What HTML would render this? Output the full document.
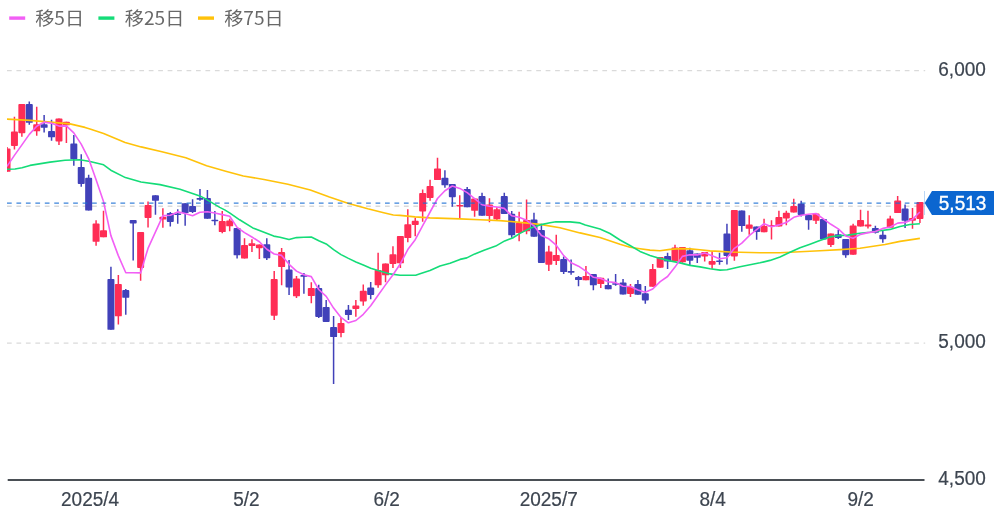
<!DOCTYPE html>
<html lang="ja"><head><meta charset="utf-8"><title>chart</title>
<style>
html,body{margin:0;padding:0;background:#fff;}
body{width:1004px;height:526px;overflow:hidden;position:relative;font-family:"Liberation Sans","Noto Sans CJK JP",sans-serif;}
svg{position:absolute;left:0;top:0;display:block}
.ax{font-family:"Liberation Sans",sans-serif;font-size:19px;fill:#3d4550;stroke:#3d4550;stroke-width:0.2px}
.lg{font-family:"Noto Sans CJK JP","Liberation Sans",sans-serif;font-size:19.15px;fill:#686868}
</style></head><body>
<svg width="1004" height="526" viewBox="0 0 1004 526">
<rect width="1004" height="526" fill="#fff"/>
<g stroke="#dadada" stroke-width="1.3" stroke-dasharray="4.725 4.725" fill="none">
<path d="M7 70.7H925.2"/><path d="M7 206.25H925.2"/><path d="M7 343.2H925.2"/>
</g>
<g clip-path="url(#cp)">
<path d="M7.02 146.9V171.8M14.44 116.7V149.5M21.86 104.0V136.7M36.71 106.8V135.7M58.97 118.4V144.9M66.40 121.7V143.1M96.08 220.2V245.8M103.51 210.8V237.3M118.35 274.9V324.5M140.62 231.9V280.8M148.04 201.6V227.4M162.88 208.2V227.8M222.26 210.9V233.3M229.68 218.7V231.3M244.52 238.2V258.6M251.95 239.2V252.1M259.37 244.5V259.1M274.21 271.1V320.0M281.63 247.9V285.2M296.48 276.1V298.1M311.32 282.2V303.3M341.01 317.6V337.3M355.85 300.1V316.8M363.28 284.6V305.8M378.12 252.7V287.8M385.54 263.5V282.3M392.96 246.2V268.1M400.39 235.9V267.9M407.81 209.2V242.3M415.23 217.8V236.3M422.65 189.6V221.8M430.07 179.7V200.8M437.50 157.8V180.1M459.76 195.2V218.8M474.61 198.4V216.8M489.45 198.2V222.3M496.87 207.3V220.3M519.14 211.7V241.2M526.56 199.6V234.2M548.83 245.8V271.0M556.25 234.8V265.0M585.94 265.9V280.3M600.78 277.7V288.1M630.47 283.9V297.0M652.73 264.1V286.8M660.16 257.1V267.7M675.00 244.8V261.3M682.42 247.1V262.8M704.69 252.1V261.5M712.11 251.2V268.7M734.38 210.1V260.8M749.22 215.2V234.8M764.06 218.8V232.2M771.49 220.2V239.6M778.91 210.7V226.5M786.33 210.8V225.3M793.75 198.8V212.5M816.02 213.4V224.1M830.86 233.4V246.9M853.13 223.8V254.7M860.55 209.8V226.5M867.97 210.8V228.4M890.24 215.8V227.8M897.66 196.1V213.1M912.50 207.9V228.8M919.93 202.1V223.0" stroke="#ff2d55" stroke-width="1.5" fill="none"/>
<path d="M29.29 101.5V124.8M44.13 115.0V132.4M51.55 119.8V140.8M73.82 135.1V165.8M81.24 154.2V186.7M88.66 174.8V210.6M110.93 266.8V329.8M125.77 289.1V314.8M133.19 220.0V260.4M155.46 195.2V214.7M170.30 211.9V226.6M177.73 209.2V223.7M185.15 203.2V225.8M192.57 199.2V213.1M199.99 188.9V200.8M207.41 190.1V218.8M214.84 210.9V225.2M237.10 228.1V258.4M266.79 238.2V260.1M289.06 260.1V295.1M303.90 273.1V293.8M318.74 284.8V318.0M326.17 299.9V322.0M333.59 315.9V384.0M348.43 304.9V319.9M370.70 281.9V299.2M444.92 170.2V187.7M452.34 184.1V206.8M467.18 187.1V207.3M482.03 192.8V215.8M504.29 192.8V214.0M511.72 210.9V237.8M533.98 212.8V236.7M541.40 223.7V263.0M563.67 256.4V274.1M571.09 259.4V274.8M578.51 275.9V286.3M593.36 273.9V290.3M608.20 278.6V289.3M615.62 274.1V285.8M623.05 279.1V294.4M637.89 279.9V294.7M645.31 286.1V303.7M667.58 252.8V268.9M689.84 247.8V264.9M697.27 253.4V263.1M719.53 252.8V264.7M726.95 223.7V264.4M741.80 210.4V231.8M756.64 226.4V239.7M801.17 200.8V216.6M808.60 215.1V229.8M823.44 219.1V239.4M838.28 229.8V239.1M845.71 239.0V257.7M875.39 225.7V233.6M882.82 230.8V242.7M905.08 204.6V227.9" stroke="#4141b9" stroke-width="1.5" fill="none"/>
<path d="M4.42 148.4h5.20a0.90 0.90 0 0 1 0.90 0.90v21.60a0.90 0.90 0 0 1 -0.90 0.90h-5.20a0.90 0.90 0 0 1 -0.90 -0.90v-21.60a0.90 0.90 0 0 1 0.90 -0.90zM11.84 131.5h5.20a0.90 0.90 0 0 1 0.90 0.90v12.70a0.90 0.90 0 0 1 -0.90 0.90h-5.20a0.90 0.90 0 0 1 -0.90 -0.90v-12.70a0.90 0.90 0 0 1 0.90 -0.90zM19.26 104.0h5.20a0.90 0.90 0 0 1 0.90 0.90v27.40a0.90 0.90 0 0 1 -0.90 0.90h-5.20a0.90 0.90 0 0 1 -0.90 -0.90v-27.40a0.90 0.90 0 0 1 0.90 -0.90zM34.11 124.2h5.20a0.90 0.90 0 0 1 0.90 0.90v5.30a0.90 0.90 0 0 1 -0.90 0.90h-5.20a0.90 0.90 0 0 1 -0.90 -0.90v-5.30a0.90 0.90 0 0 1 0.90 -0.90zM56.37 118.4h5.20a0.90 0.90 0 0 1 0.90 0.90v21.20a0.90 0.90 0 0 1 -0.90 0.90h-5.20a0.90 0.90 0 0 1 -0.90 -0.90v-21.20a0.90 0.90 0 0 1 0.90 -0.90zM63.80 121.7h5.20a0.90 0.90 0 0 1 0.90 0.90v1.80a0.90 0.90 0 0 1 -0.90 0.90h-5.20a0.90 0.90 0 0 1 -0.90 -0.90v-1.80a0.90 0.90 0 0 1 0.90 -0.90zM93.48 223.4h5.20a0.90 0.90 0 0 1 0.90 0.90v16.60a0.90 0.90 0 0 1 -0.90 0.90h-5.20a0.90 0.90 0 0 1 -0.90 -0.90v-16.60a0.90 0.90 0 0 1 0.90 -0.90zM100.91 230.2h5.20a0.90 0.90 0 0 1 0.90 0.90v5.30a0.90 0.90 0 0 1 -0.90 0.90h-5.20a0.90 0.90 0 0 1 -0.90 -0.90v-5.30a0.90 0.90 0 0 1 0.90 -0.90zM115.75 283.9h5.20a0.90 0.90 0 0 1 0.90 0.90v30.60a0.90 0.90 0 0 1 -0.90 0.90h-5.20a0.90 0.90 0 0 1 -0.90 -0.90v-30.60a0.90 0.90 0 0 1 0.90 -0.90zM138.02 231.9h5.20a0.90 0.90 0 0 1 0.90 0.90v34.20a0.90 0.90 0 0 1 -0.90 0.90h-5.20a0.90 0.90 0 0 1 -0.90 -0.90v-34.20a0.90 0.90 0 0 1 0.90 -0.90zM145.44 205.1h5.20a0.90 0.90 0 0 1 0.90 0.90v11.00a0.90 0.90 0 0 1 -0.90 0.90h-5.20a0.90 0.90 0 0 1 -0.90 -0.90v-11.00a0.90 0.90 0 0 1 0.90 -0.90zM160.28 216.7h5.20a0.90 0.90 0 0 1 0.90 0.90v1.10a0.90 0.90 0 0 1 -0.90 0.90h-5.20a0.90 0.90 0 0 1 -0.90 -0.90v-1.10a0.90 0.90 0 0 1 0.90 -0.90zM219.66 221.1h5.20a0.90 0.90 0 0 1 0.90 0.90v9.20a0.90 0.90 0 0 1 -0.90 0.90h-5.20a0.90 0.90 0 0 1 -0.90 -0.90v-9.20a0.90 0.90 0 0 1 0.90 -0.90zM227.08 220.4h5.20a0.90 0.90 0 0 1 0.90 0.90v4.10a0.90 0.90 0 0 1 -0.90 0.90h-5.20a0.90 0.90 0 0 1 -0.90 -0.90v-4.10a0.90 0.90 0 0 1 0.90 -0.90zM241.92 245.0h5.20a0.90 0.90 0 0 1 0.90 0.90v11.80a0.90 0.90 0 0 1 -0.90 0.90h-5.20a0.90 0.90 0 0 1 -0.90 -0.90v-11.80a0.90 0.90 0 0 1 0.90 -0.90zM249.35 243.3h5.20a0.90 0.90 0 0 1 0.90 0.90v0.90a0.90 0.90 0 0 1 -0.90 0.90h-5.20a0.90 0.90 0 0 1 -0.90 -0.90v-0.90a0.90 0.90 0 0 1 0.90 -0.90zM256.77 244.5h5.20a0.90 0.90 0 0 1 0.90 0.90v1.90a0.90 0.90 0 0 1 -0.90 0.90h-5.20a0.90 0.90 0 0 1 -0.90 -0.90v-1.90a0.90 0.90 0 0 1 0.90 -0.90zM271.61 279.0h5.20a0.90 0.90 0 0 1 0.90 0.90v34.90a0.90 0.90 0 0 1 -0.90 0.90h-5.20a0.90 0.90 0 0 1 -0.90 -0.90v-34.90a0.90 0.90 0 0 1 0.90 -0.90zM279.03 252.0h5.20a0.90 0.90 0 0 1 0.90 0.90v13.30a0.90 0.90 0 0 1 -0.90 0.90h-5.20a0.90 0.90 0 0 1 -0.90 -0.90v-13.30a0.90 0.90 0 0 1 0.90 -0.90zM293.88 278.6h5.20a0.90 0.90 0 0 1 0.90 0.90v15.90a0.90 0.90 0 0 1 -0.90 0.90h-5.20a0.90 0.90 0 0 1 -0.90 -0.90v-15.90a0.90 0.90 0 0 1 0.90 -0.90zM308.72 287.9h5.20a0.90 0.90 0 0 1 0.90 0.90v6.40a0.90 0.90 0 0 1 -0.90 0.90h-5.20a0.90 0.90 0 0 1 -0.90 -0.90v-6.40a0.90 0.90 0 0 1 0.90 -0.90zM338.41 322.9h5.20a0.90 0.90 0 0 1 0.90 0.90v8.40a0.90 0.90 0 0 1 -0.90 0.90h-5.20a0.90 0.90 0 0 1 -0.90 -0.90v-8.40a0.90 0.90 0 0 1 0.90 -0.90zM353.25 305.5h5.20a0.90 0.90 0 0 1 0.90 0.90v1.60a0.90 0.90 0 0 1 -0.90 0.90h-5.20a0.90 0.90 0 0 1 -0.90 -0.90v-1.60a0.90 0.90 0 0 1 0.90 -0.90zM360.68 290.7h5.20a0.90 0.90 0 0 1 0.90 0.90v8.90a0.90 0.90 0 0 1 -0.90 0.90h-5.20a0.90 0.90 0 0 1 -0.90 -0.90v-8.90a0.90 0.90 0 0 1 0.90 -0.90zM375.52 269.9h5.20a0.90 0.90 0 0 1 0.90 0.90v13.60a0.90 0.90 0 0 1 -0.90 0.90h-5.20a0.90 0.90 0 0 1 -0.90 -0.90v-13.60a0.90 0.90 0 0 1 0.90 -0.90zM382.94 263.5h5.20a0.90 0.90 0 0 1 0.90 0.90v10.00a0.90 0.90 0 0 1 -0.90 0.90h-5.20a0.90 0.90 0 0 1 -0.90 -0.90v-10.00a0.90 0.90 0 0 1 0.90 -0.90zM390.36 254.3h5.20a0.90 0.90 0 0 1 0.90 0.90v7.90a0.90 0.90 0 0 1 -0.90 0.90h-5.20a0.90 0.90 0 0 1 -0.90 -0.90v-7.90a0.90 0.90 0 0 1 0.90 -0.90zM397.79 235.9h5.20a0.90 0.90 0 0 1 0.90 0.90v25.60a0.90 0.90 0 0 1 -0.90 0.90h-5.20a0.90 0.90 0 0 1 -0.90 -0.90v-25.60a0.90 0.90 0 0 1 0.90 -0.90zM405.21 224.2h5.20a0.90 0.90 0 0 1 0.90 0.90v12.10a0.90 0.90 0 0 1 -0.90 0.90h-5.20a0.90 0.90 0 0 1 -0.90 -0.90v-12.10a0.90 0.90 0 0 1 0.90 -0.90zM412.63 220.8h5.20a0.90 0.90 0 0 1 0.90 0.90v2.30a0.90 0.90 0 0 1 -0.90 0.90h-5.20a0.90 0.90 0 0 1 -0.90 -0.90v-2.30a0.90 0.90 0 0 1 0.90 -0.90zM420.05 193.1h5.20a0.90 0.90 0 0 1 0.90 0.90v16.60a0.90 0.90 0 0 1 -0.90 0.90h-5.20a0.90 0.90 0 0 1 -0.90 -0.90v-16.60a0.90 0.90 0 0 1 0.90 -0.90zM427.47 186.0h5.20a0.90 0.90 0 0 1 0.90 0.90v10.20a0.90 0.90 0 0 1 -0.90 0.90h-5.20a0.90 0.90 0 0 1 -0.90 -0.90v-10.20a0.90 0.90 0 0 1 0.90 -0.90zM434.90 168.4h5.20a0.90 0.90 0 0 1 0.90 0.90v9.90a0.90 0.90 0 0 1 -0.90 0.90h-5.20a0.90 0.90 0 0 1 -0.90 -0.90v-9.90a0.90 0.90 0 0 1 0.90 -0.90zM457.06 204.9h5.40a0.80 0.80 0 0 1 0.80 0.80v0.00a0.80 0.80 0 0 1 -0.80 0.80h-5.40a0.80 0.80 0 0 1 -0.80 -0.80v-0.00a0.80 0.80 0 0 1 0.80 -0.80zM472.01 198.4h5.20a0.90 0.90 0 0 1 0.90 0.90v10.60a0.90 0.90 0 0 1 -0.90 0.90h-5.20a0.90 0.90 0 0 1 -0.90 -0.90v-10.60a0.90 0.90 0 0 1 0.90 -0.90zM486.85 204.4h5.20a0.90 0.90 0 0 1 0.90 0.90v9.90a0.90 0.90 0 0 1 -0.90 0.90h-5.20a0.90 0.90 0 0 1 -0.90 -0.90v-9.90a0.90 0.90 0 0 1 0.90 -0.90zM494.27 209.2h5.20a0.90 0.90 0 0 1 0.90 0.90v8.30a0.90 0.90 0 0 1 -0.90 0.90h-5.20a0.90 0.90 0 0 1 -0.90 -0.90v-8.30a0.90 0.90 0 0 1 0.90 -0.90zM516.54 222.9h5.20a0.90 0.90 0 0 1 0.90 0.90v8.40a0.90 0.90 0 0 1 -0.90 0.90h-5.20a0.90 0.90 0 0 1 -0.90 -0.90v-8.40a0.90 0.90 0 0 1 0.90 -0.90zM523.96 219.9h5.20a0.90 0.90 0 0 1 0.90 0.90v9.60a0.90 0.90 0 0 1 -0.90 0.90h-5.20a0.90 0.90 0 0 1 -0.90 -0.90v-9.60a0.90 0.90 0 0 1 0.90 -0.90zM546.23 251.4h5.20a0.90 0.90 0 0 1 0.90 0.90v11.50a0.90 0.90 0 0 1 -0.90 0.90h-5.20a0.90 0.90 0 0 1 -0.90 -0.90v-11.50a0.90 0.90 0 0 1 0.90 -0.90zM553.65 254.9h5.20a0.90 0.90 0 0 1 0.90 0.90v4.40a0.90 0.90 0 0 1 -0.90 0.90h-5.20a0.90 0.90 0 0 1 -0.90 -0.90v-4.40a0.90 0.90 0 0 1 0.90 -0.90zM583.34 276.1h5.20a0.90 0.90 0 0 1 0.90 0.90v2.40a0.90 0.90 0 0 1 -0.90 0.90h-5.20a0.90 0.90 0 0 1 -0.90 -0.90v-2.40a0.90 0.90 0 0 1 0.90 -0.90zM598.18 277.7h5.20a0.90 0.90 0 0 1 0.90 0.90v4.60a0.90 0.90 0 0 1 -0.90 0.90h-5.20a0.90 0.90 0 0 1 -0.90 -0.90v-4.60a0.90 0.90 0 0 1 0.90 -0.90zM627.87 286.7h5.20a0.90 0.90 0 0 1 0.90 0.90v5.50a0.90 0.90 0 0 1 -0.90 0.90h-5.20a0.90 0.90 0 0 1 -0.90 -0.90v-5.50a0.90 0.90 0 0 1 0.90 -0.90zM650.13 268.9h5.20a0.90 0.90 0 0 1 0.90 0.90v16.10a0.90 0.90 0 0 1 -0.90 0.90h-5.20a0.90 0.90 0 0 1 -0.90 -0.90v-16.10a0.90 0.90 0 0 1 0.90 -0.90zM657.56 257.1h5.20a0.90 0.90 0 0 1 0.90 0.90v8.80a0.90 0.90 0 0 1 -0.90 0.90h-5.20a0.90 0.90 0 0 1 -0.90 -0.90v-8.80a0.90 0.90 0 0 1 0.90 -0.90zM672.40 247.4h5.20a0.90 0.90 0 0 1 0.90 0.90v12.10a0.90 0.90 0 0 1 -0.90 0.90h-5.20a0.90 0.90 0 0 1 -0.90 -0.90v-12.10a0.90 0.90 0 0 1 0.90 -0.90zM679.82 247.1h5.20a0.90 0.90 0 0 1 0.90 0.90v13.40a0.90 0.90 0 0 1 -0.90 0.90h-5.20a0.90 0.90 0 0 1 -0.90 -0.90v-13.40a0.90 0.90 0 0 1 0.90 -0.90zM702.09 252.1h5.20a0.90 0.90 0 0 1 0.90 0.90v2.60a0.90 0.90 0 0 1 -0.90 0.90h-5.20a0.90 0.90 0 0 1 -0.90 -0.90v-2.60a0.90 0.90 0 0 1 0.90 -0.90zM709.51 261.0h5.20a0.90 0.90 0 0 1 0.90 0.90v1.90a0.90 0.90 0 0 1 -0.90 0.90h-5.20a0.90 0.90 0 0 1 -0.90 -0.90v-1.90a0.90 0.90 0 0 1 0.90 -0.90zM731.78 210.1h5.20a0.90 0.90 0 0 1 0.90 0.90v44.60a0.90 0.90 0 0 1 -0.90 0.90h-5.20a0.90 0.90 0 0 1 -0.90 -0.90v-44.60a0.90 0.90 0 0 1 0.90 -0.90zM746.62 224.4h5.20a0.90 0.90 0 0 1 0.90 0.90v2.60a0.90 0.90 0 0 1 -0.90 0.90h-5.20a0.90 0.90 0 0 1 -0.90 -0.90v-2.60a0.90 0.90 0 0 1 0.90 -0.90zM761.46 225.9h5.20a0.90 0.90 0 0 1 0.90 0.90v4.50a0.90 0.90 0 0 1 -0.90 0.90h-5.20a0.90 0.90 0 0 1 -0.90 -0.90v-4.50a0.90 0.90 0 0 1 0.90 -0.90zM768.69 225.0h5.60a0.70 0.70 0 0 1 0.70 0.70v0.00a0.70 0.70 0 0 1 -0.70 0.70h-5.60a0.70 0.70 0 0 1 -0.70 -0.70v-0.00a0.70 0.70 0 0 1 0.70 -0.70zM776.31 217.1h5.20a0.90 0.90 0 0 1 0.90 0.90v7.60a0.90 0.90 0 0 1 -0.90 0.90h-5.20a0.90 0.90 0 0 1 -0.90 -0.90v-7.60a0.90 0.90 0 0 1 0.90 -0.90zM783.73 212.7h5.20a0.90 0.90 0 0 1 0.90 0.90v4.00a0.90 0.90 0 0 1 -0.90 0.90h-5.20a0.90 0.90 0 0 1 -0.90 -0.90v-4.00a0.90 0.90 0 0 1 0.90 -0.90zM791.15 206.0h5.20a0.90 0.90 0 0 1 0.90 0.90v4.70a0.90 0.90 0 0 1 -0.90 0.90h-5.20a0.90 0.90 0 0 1 -0.90 -0.90v-4.70a0.90 0.90 0 0 1 0.90 -0.90zM813.42 213.4h5.20a0.90 0.90 0 0 1 0.90 0.90v5.60a0.90 0.90 0 0 1 -0.90 0.90h-5.20a0.90 0.90 0 0 1 -0.90 -0.90v-5.60a0.90 0.90 0 0 1 0.90 -0.90zM828.26 233.4h5.20a0.90 0.90 0 0 1 0.90 0.90v9.70a0.90 0.90 0 0 1 -0.90 0.90h-5.20a0.90 0.90 0 0 1 -0.90 -0.90v-9.70a0.90 0.90 0 0 1 0.90 -0.90zM850.53 225.4h5.20a0.90 0.90 0 0 1 0.90 0.90v27.50a0.90 0.90 0 0 1 -0.90 0.90h-5.20a0.90 0.90 0 0 1 -0.90 -0.90v-27.50a0.90 0.90 0 0 1 0.90 -0.90zM857.95 220.0h5.20a0.90 0.90 0 0 1 0.90 0.90v4.70a0.90 0.90 0 0 1 -0.90 0.90h-5.20a0.90 0.90 0 0 1 -0.90 -0.90v-4.70a0.90 0.90 0 0 1 0.90 -0.90zM865.37 224.4h5.20a0.90 0.90 0 0 1 0.90 0.90v0.20a0.90 0.90 0 0 1 -0.90 0.90h-5.20a0.90 0.90 0 0 1 -0.90 -0.90v-0.20a0.90 0.90 0 0 1 0.90 -0.90zM887.64 218.5h5.20a0.90 0.90 0 0 1 0.90 0.90v7.50a0.90 0.90 0 0 1 -0.90 0.90h-5.20a0.90 0.90 0 0 1 -0.90 -0.90v-7.50a0.90 0.90 0 0 1 0.90 -0.90zM895.06 200.6h5.20a0.90 0.90 0 0 1 0.90 0.90v10.70a0.90 0.90 0 0 1 -0.90 0.90h-5.20a0.90 0.90 0 0 1 -0.90 -0.90v-10.70a0.90 0.90 0 0 1 0.90 -0.90zM909.90 218.1h5.20a0.90 0.90 0 0 1 0.90 0.90v0.80a0.90 0.90 0 0 1 -0.90 0.90h-5.20a0.90 0.90 0 0 1 -0.90 -0.90v-0.80a0.90 0.90 0 0 1 0.90 -0.90zM917.33 202.1h5.20a0.90 0.90 0 0 1 0.90 0.90v15.00a0.90 0.90 0 0 1 -0.90 0.90h-5.20a0.90 0.90 0 0 1 -0.90 -0.90v-15.00a0.90 0.90 0 0 1 0.90 -0.90z" fill="#ff2d55"/>
<path d="M26.69 104.0h5.20a0.90 0.90 0 0 1 0.90 0.90v17.00a0.90 0.90 0 0 1 -0.90 0.90h-5.20a0.90 0.90 0 0 1 -0.90 -0.90v-17.00a0.90 0.90 0 0 1 0.90 -0.90zM41.53 124.2h5.20a0.90 0.90 0 0 1 0.90 0.90v1.80a0.90 0.90 0 0 1 -0.90 0.90h-5.20a0.90 0.90 0 0 1 -0.90 -0.90v-1.80a0.90 0.90 0 0 1 0.90 -0.90zM48.95 131.1h5.20a0.90 0.90 0 0 1 0.90 0.90v4.40a0.90 0.90 0 0 1 -0.90 0.90h-5.20a0.90 0.90 0 0 1 -0.90 -0.90v-4.40a0.90 0.90 0 0 1 0.90 -0.90zM71.22 143.5h5.20a0.90 0.90 0 0 1 0.90 0.90v14.00a0.90 0.90 0 0 1 -0.90 0.90h-5.20a0.90 0.90 0 0 1 -0.90 -0.90v-14.00a0.90 0.90 0 0 1 0.90 -0.90zM78.64 166.9h5.20a0.90 0.90 0 0 1 0.90 0.90v15.30a0.90 0.90 0 0 1 -0.90 0.90h-5.20a0.90 0.90 0 0 1 -0.90 -0.90v-15.30a0.90 0.90 0 0 1 0.90 -0.90zM86.06 177.8h5.20a0.90 0.90 0 0 1 0.90 0.90v31.00a0.90 0.90 0 0 1 -0.90 0.90h-5.20a0.90 0.90 0 0 1 -0.90 -0.90v-31.00a0.90 0.90 0 0 1 0.90 -0.90zM108.33 278.9h5.20a0.90 0.90 0 0 1 0.90 0.90v49.10a0.90 0.90 0 0 1 -0.90 0.90h-5.20a0.90 0.90 0 0 1 -0.90 -0.90v-49.10a0.90 0.90 0 0 1 0.90 -0.90zM123.17 290.1h5.20a0.90 0.90 0 0 1 0.90 0.90v5.90a0.90 0.90 0 0 1 -0.90 0.90h-5.20a0.90 0.90 0 0 1 -0.90 -0.90v-5.90a0.90 0.90 0 0 1 0.90 -0.90zM130.59 220.0h5.20a0.90 0.90 0 0 1 0.90 0.90v1.60a0.90 0.90 0 0 1 -0.90 0.90h-5.20a0.90 0.90 0 0 1 -0.90 -0.90v-1.60a0.90 0.90 0 0 1 0.90 -0.90zM152.86 195.2h5.20a0.90 0.90 0 0 1 0.90 0.90v3.80a0.90 0.90 0 0 1 -0.90 0.90h-5.20a0.90 0.90 0 0 1 -0.90 -0.90v-3.80a0.90 0.90 0 0 1 0.90 -0.90zM167.70 212.9h5.20a0.90 0.90 0 0 1 0.90 0.90v7.20a0.90 0.90 0 0 1 -0.90 0.90h-5.20a0.90 0.90 0 0 1 -0.90 -0.90v-7.20a0.90 0.90 0 0 1 0.90 -0.90zM174.93 213.5h5.60a0.70 0.70 0 0 1 0.70 0.70v0.00a0.70 0.70 0 0 1 -0.70 0.70h-5.60a0.70 0.70 0 0 1 -0.70 -0.70v-0.00a0.70 0.70 0 0 1 0.70 -0.70zM182.55 203.2h5.20a0.90 0.90 0 0 1 0.90 0.90v8.10a0.90 0.90 0 0 1 -0.90 0.90h-5.20a0.90 0.90 0 0 1 -0.90 -0.90v-8.10a0.90 0.90 0 0 1 0.90 -0.90zM189.97 206.1h5.20a0.90 0.90 0 0 1 0.90 0.90v4.20a0.90 0.90 0 0 1 -0.90 0.90h-5.20a0.90 0.90 0 0 1 -0.90 -0.90v-4.20a0.90 0.90 0 0 1 0.90 -0.90zM197.29 198.1h5.40a0.80 0.80 0 0 1 0.80 0.80v0.00a0.80 0.80 0 0 1 -0.80 0.80h-5.40a0.80 0.80 0 0 1 -0.80 -0.80v-0.00a0.80 0.80 0 0 1 0.80 -0.80zM204.81 197.9h5.20a0.90 0.90 0 0 1 0.90 0.90v19.10a0.90 0.90 0 0 1 -0.90 0.90h-5.20a0.90 0.90 0 0 1 -0.90 -0.90v-19.10a0.90 0.90 0 0 1 0.90 -0.90zM212.14 219.7h5.40a0.80 0.80 0 0 1 0.80 0.80v0.00a0.80 0.80 0 0 1 -0.80 0.80h-5.40a0.80 0.80 0 0 1 -0.80 -0.80v-0.00a0.80 0.80 0 0 1 0.80 -0.80zM234.50 228.1h5.20a0.90 0.90 0 0 1 0.90 0.90v25.40a0.90 0.90 0 0 1 -0.90 0.90h-5.20a0.90 0.90 0 0 1 -0.90 -0.90v-25.40a0.90 0.90 0 0 1 0.90 -0.90zM264.19 244.2h5.20a0.90 0.90 0 0 1 0.90 0.90v12.30a0.90 0.90 0 0 1 -0.90 0.90h-5.20a0.90 0.90 0 0 1 -0.90 -0.90v-12.30a0.90 0.90 0 0 1 0.90 -0.90zM286.46 269.4h5.20a0.90 0.90 0 0 1 0.90 0.90v16.30a0.90 0.90 0 0 1 -0.90 0.90h-5.20a0.90 0.90 0 0 1 -0.90 -0.90v-16.30a0.90 0.90 0 0 1 0.90 -0.90zM301.30 274.9h5.20a0.90 0.90 0 0 1 0.90 0.90v0.10a0.90 0.90 0 0 1 -0.90 0.90h-5.20a0.90 0.90 0 0 1 -0.90 -0.90v-0.10a0.90 0.90 0 0 1 0.90 -0.90zM316.14 288.1h5.20a0.90 0.90 0 0 1 0.90 0.90v27.00a0.90 0.90 0 0 1 -0.90 0.90h-5.20a0.90 0.90 0 0 1 -0.90 -0.90v-27.00a0.90 0.90 0 0 1 0.90 -0.90zM323.57 307.1h5.20a0.90 0.90 0 0 1 0.90 0.90v13.10a0.90 0.90 0 0 1 -0.90 0.90h-5.20a0.90 0.90 0 0 1 -0.90 -0.90v-13.10a0.90 0.90 0 0 1 0.90 -0.90zM330.99 327.1h5.20a0.90 0.90 0 0 1 0.90 0.90v8.20a0.90 0.90 0 0 1 -0.90 0.90h-5.20a0.90 0.90 0 0 1 -0.90 -0.90v-8.20a0.90 0.90 0 0 1 0.90 -0.90zM345.83 309.8h5.20a0.90 0.90 0 0 1 0.90 0.90v3.50a0.90 0.90 0 0 1 -0.90 0.90h-5.20a0.90 0.90 0 0 1 -0.90 -0.90v-3.50a0.90 0.90 0 0 1 0.90 -0.90zM368.10 287.4h5.20a0.90 0.90 0 0 1 0.90 0.90v5.80a0.90 0.90 0 0 1 -0.90 0.90h-5.20a0.90 0.90 0 0 1 -0.90 -0.90v-5.80a0.90 0.90 0 0 1 0.90 -0.90zM442.32 177.7h5.20a0.90 0.90 0 0 1 0.90 0.90v5.80a0.90 0.90 0 0 1 -0.90 0.90h-5.20a0.90 0.90 0 0 1 -0.90 -0.90v-5.80a0.90 0.90 0 0 1 0.90 -0.90zM449.74 184.1h5.20a0.90 0.90 0 0 1 0.90 0.90v11.30a0.90 0.90 0 0 1 -0.90 0.90h-5.20a0.90 0.90 0 0 1 -0.90 -0.90v-11.30a0.90 0.90 0 0 1 0.90 -0.90zM464.58 189.0h5.20a0.90 0.90 0 0 1 0.90 0.90v16.50a0.90 0.90 0 0 1 -0.90 0.90h-5.20a0.90 0.90 0 0 1 -0.90 -0.90v-16.50a0.90 0.90 0 0 1 0.90 -0.90zM479.43 196.0h5.20a0.90 0.90 0 0 1 0.90 0.90v18.00a0.90 0.90 0 0 1 -0.90 0.90h-5.20a0.90 0.90 0 0 1 -0.90 -0.90v-18.00a0.90 0.90 0 0 1 0.90 -0.90zM501.69 196.0h5.20a0.90 0.90 0 0 1 0.90 0.90v16.20a0.90 0.90 0 0 1 -0.90 0.90h-5.20a0.90 0.90 0 0 1 -0.90 -0.90v-16.20a0.90 0.90 0 0 1 0.90 -0.90zM509.12 213.7h5.20a0.90 0.90 0 0 1 0.90 0.90v19.80a0.90 0.90 0 0 1 -0.90 0.90h-5.20a0.90 0.90 0 0 1 -0.90 -0.90v-19.80a0.90 0.90 0 0 1 0.90 -0.90zM531.38 219.4h5.20a0.90 0.90 0 0 1 0.90 0.90v15.50a0.90 0.90 0 0 1 -0.90 0.90h-5.20a0.90 0.90 0 0 1 -0.90 -0.90v-15.50a0.90 0.90 0 0 1 0.90 -0.90zM538.80 230.1h5.20a0.90 0.90 0 0 1 0.90 0.90v31.10a0.90 0.90 0 0 1 -0.90 0.90h-5.20a0.90 0.90 0 0 1 -0.90 -0.90v-31.10a0.90 0.90 0 0 1 0.90 -0.90zM561.07 259.0h5.20a0.90 0.90 0 0 1 0.90 0.90v11.30a0.90 0.90 0 0 1 -0.90 0.90h-5.20a0.90 0.90 0 0 1 -0.90 -0.90v-11.30a0.90 0.90 0 0 1 0.90 -0.90zM568.49 270.9h5.20a0.90 0.90 0 0 1 0.90 0.90v0.00a0.90 0.90 0 0 1 -0.90 0.90h-5.20a0.90 0.90 0 0 1 -0.90 -0.90v-0.00a0.90 0.90 0 0 1 0.90 -0.90zM575.91 277.1h5.20a0.90 0.90 0 0 1 0.90 0.90v1.20a0.90 0.90 0 0 1 -0.90 0.90h-5.20a0.90 0.90 0 0 1 -0.90 -0.90v-1.20a0.90 0.90 0 0 1 0.90 -0.90zM590.76 273.9h5.20a0.90 0.90 0 0 1 0.90 0.90v9.60a0.90 0.90 0 0 1 -0.90 0.90h-5.20a0.90 0.90 0 0 1 -0.90 -0.90v-9.60a0.90 0.90 0 0 1 0.90 -0.90zM605.60 284.9h5.20a0.90 0.90 0 0 1 0.90 0.90v2.60a0.90 0.90 0 0 1 -0.90 0.90h-5.20a0.90 0.90 0 0 1 -0.90 -0.90v-2.60a0.90 0.90 0 0 1 0.90 -0.90zM612.82 283.3h5.60a0.70 0.70 0 0 1 0.70 0.70v0.00a0.70 0.70 0 0 1 -0.70 0.70h-5.60a0.70 0.70 0 0 1 -0.70 -0.70v-0.00a0.70 0.70 0 0 1 0.70 -0.70zM620.45 282.4h5.20a0.90 0.90 0 0 1 0.90 0.90v10.20a0.90 0.90 0 0 1 -0.90 0.90h-5.20a0.90 0.90 0 0 1 -0.90 -0.90v-10.20a0.90 0.90 0 0 1 0.90 -0.90zM635.29 284.1h5.20a0.90 0.90 0 0 1 0.90 0.90v8.80a0.90 0.90 0 0 1 -0.90 0.90h-5.20a0.90 0.90 0 0 1 -0.90 -0.90v-8.80a0.90 0.90 0 0 1 0.90 -0.90zM642.71 293.3h5.20a0.90 0.90 0 0 1 0.90 0.90v5.30a0.90 0.90 0 0 1 -0.90 0.90h-5.20a0.90 0.90 0 0 1 -0.90 -0.90v-5.30a0.90 0.90 0 0 1 0.90 -0.90zM664.98 256.0h5.20a0.90 0.90 0 0 1 0.90 0.90v3.80a0.90 0.90 0 0 1 -0.90 0.90h-5.20a0.90 0.90 0 0 1 -0.90 -0.90v-3.80a0.90 0.90 0 0 1 0.90 -0.90zM687.24 250.2h5.20a0.90 0.90 0 0 1 0.90 0.90v8.70a0.90 0.90 0 0 1 -0.90 0.90h-5.20a0.90 0.90 0 0 1 -0.90 -0.90v-8.70a0.90 0.90 0 0 1 0.90 -0.90zM694.67 253.4h5.20a0.90 0.90 0 0 1 0.90 0.90v2.60a0.90 0.90 0 0 1 -0.90 0.90h-5.20a0.90 0.90 0 0 1 -0.90 -0.90v-2.60a0.90 0.90 0 0 1 0.90 -0.90zM716.83 260.5h5.40a0.80 0.80 0 0 1 0.80 0.80v0.00a0.80 0.80 0 0 1 -0.80 0.80h-5.40a0.80 0.80 0 0 1 -0.80 -0.80v-0.00a0.80 0.80 0 0 1 0.80 -0.80zM724.35 233.4h5.20a0.90 0.90 0 0 1 0.90 0.90v20.80a0.90 0.90 0 0 1 -0.90 0.90h-5.20a0.90 0.90 0 0 1 -0.90 -0.90v-20.80a0.90 0.90 0 0 1 0.90 -0.90zM739.20 210.4h5.20a0.90 0.90 0 0 1 0.90 0.90v13.90a0.90 0.90 0 0 1 -0.90 0.90h-5.20a0.90 0.90 0 0 1 -0.90 -0.90v-13.90a0.90 0.90 0 0 1 0.90 -0.90zM754.04 226.4h5.20a0.90 0.90 0 0 1 0.90 0.90v3.80a0.90 0.90 0 0 1 -0.90 0.90h-5.20a0.90 0.90 0 0 1 -0.90 -0.90v-3.80a0.90 0.90 0 0 1 0.90 -0.90zM798.57 203.5h5.20a0.90 0.90 0 0 1 0.90 0.90v9.70a0.90 0.90 0 0 1 -0.90 0.90h-5.20a0.90 0.90 0 0 1 -0.90 -0.90v-9.70a0.90 0.90 0 0 1 0.90 -0.90zM806.00 215.1h5.20a0.90 0.90 0 0 1 0.90 0.90v3.30a0.90 0.90 0 0 1 -0.90 0.90h-5.20a0.90 0.90 0 0 1 -0.90 -0.90v-3.30a0.90 0.90 0 0 1 0.90 -0.90zM820.84 219.1h5.20a0.90 0.90 0 0 1 0.90 0.90v18.50a0.90 0.90 0 0 1 -0.90 0.90h-5.20a0.90 0.90 0 0 1 -0.90 -0.90v-18.50a0.90 0.90 0 0 1 0.90 -0.90zM835.68 234.2h5.20a0.90 0.90 0 0 1 0.90 0.90v1.90a0.90 0.90 0 0 1 -0.90 0.90h-5.20a0.90 0.90 0 0 1 -0.90 -0.90v-1.90a0.90 0.90 0 0 1 0.90 -0.90zM843.11 239.0h5.20a0.90 0.90 0 0 1 0.90 0.90v14.40a0.90 0.90 0 0 1 -0.90 0.90h-5.20a0.90 0.90 0 0 1 -0.90 -0.90v-14.40a0.90 0.90 0 0 1 0.90 -0.90zM872.79 228.0h5.20a0.90 0.90 0 0 1 0.90 0.90v3.00a0.90 0.90 0 0 1 -0.90 0.90h-5.20a0.90 0.90 0 0 1 -0.90 -0.90v-3.00a0.90 0.90 0 0 1 0.90 -0.90zM880.22 234.8h5.20a0.90 0.90 0 0 1 0.90 0.90v2.60a0.90 0.90 0 0 1 -0.90 0.90h-5.20a0.90 0.90 0 0 1 -0.90 -0.90v-2.60a0.90 0.90 0 0 1 0.90 -0.90zM902.48 208.6h5.20a0.90 0.90 0 0 1 0.90 0.90v10.40a0.90 0.90 0 0 1 -0.90 0.90h-5.20a0.90 0.90 0 0 1 -0.90 -0.90v-10.40a0.90 0.90 0 0 1 0.90 -0.90z" fill="#4141b9"/>
<polyline points="7.0,119.1 30.0,120.4 50.0,122.1 70.0,123.9 85.0,127.4 90.0,129.0 103.6,133.4 125.1,142.5 141.1,146.9 161.9,151.7 185.8,157.8 206.6,165.8 225.7,171.2 243.3,176.0 264.0,179.5 287.9,184.3 310.3,190.0 329.4,197.0 348.6,203.4 367.8,208.7 383.7,212.7 393.3,215.0 400.0,215.4 415.0,216.9 430.0,217.9 460.0,218.9 480.0,219.7 500.0,220.6 520.0,222.4 540.0,224.4 560.0,227.7 580.0,232.9 600.0,237.5 620.0,244.2 630.0,247.2 640.0,248.7 650.0,250.1 660.0,250.7 670.0,249.4 680.0,248.6 690.0,248.9 700.0,249.7 710.0,250.9 720.0,251.4 730.0,252.0 760.0,252.7 780.0,252.7 800.0,251.7 820.0,250.8 840.0,249.6 860.0,248.2 870.0,246.8 885.0,244.5 900.0,241.4 919.9,238.4" fill="none" stroke="#ffc20a" stroke-width="1.6" stroke-linejoin="round"/>
<polyline points="7.0,169.3 15.0,169.0 22.0,167.8 30.0,165.4 50.0,162.1 65.0,160.2 80.0,159.7 90.0,161.5 103.6,164.8 110.8,170.2 125.4,177.6 141.0,182.0 160.0,184.6 180.0,189.3 199.8,195.9 204.7,198.4 209.7,201.4 214.7,204.4 219.7,207.4 224.7,209.9 229.6,212.9 234.6,216.4 239.6,219.8 252.8,227.9 273.7,236.1 280.0,237.2 289.0,239.6 296.5,237.6 303.9,237.3 311.3,237.0 318.8,240.7 326.2,243.9 333.6,249.6 341.0,254.6 348.4,258.4 355.9,262.0 363.3,265.1 370.7,268.3 378.1,270.6 390.0,273.9 400.0,275.2 415.7,275.2 420.0,273.8 430.0,270.6 440.0,266.0 450.0,263.3 460.0,259.4 466.8,257.9 474.8,253.9 484.7,249.9 495.7,246.1 504.7,240.9 512.6,238.0 520.0,233.4 530.0,228.2 540.0,224.9 550.0,222.7 556.0,221.7 570.0,221.9 580.0,222.9 585.3,225.0 600.0,229.0 610.0,233.5 620.0,240.0 630.0,245.5 640.0,251.4 650.0,255.4 660.0,258.4 670.0,260.9 680.0,262.9 690.0,265.4 700.0,266.9 710.0,268.8 720.0,270.1 727.0,269.8 740.0,266.8 760.0,262.8 770.0,260.4 780.0,256.9 790.0,252.3 800.0,247.8 810.0,244.2 818.5,241.0 829.9,236.9 838.3,235.7 847.8,235.1 859.8,233.3 870.0,232.2 880.0,230.7 890.0,229.4 900.0,226.5 910.0,224.5 919.9,223.8" fill="none" stroke="#14dc78" stroke-width="1.6" stroke-linejoin="round"/>
<polyline points="7.0,166.4 14.4,155.4 21.9,144.9 29.3,134.4 36.7,126.2 44.1,122.1 51.6,123.2 59.0,126.1 66.4,125.9 73.8,132.9 81.2,144.1 88.7,158.8 96.1,179.8 103.5,201.5 110.9,235.6 118.3,255.6 125.8,272.8 133.2,272.8 140.6,272.9 148.0,248.4 155.5,231.8 162.9,215.6 170.3,215.3 177.7,211.9 185.1,213.5 192.6,215.7 200.0,212.3 207.4,211.7 214.8,213.0 222.3,214.6 229.7,216.3 237.1,227.4 244.5,232.6 251.9,237.0 259.4,241.7 266.8,249.3 274.2,254.0 281.6,255.4 289.1,264.3 296.5,271.1 303.9,274.8 311.3,276.6 318.7,289.5 326.2,296.4 333.6,308.1 341.0,317.4 348.4,322.8 355.9,320.5 363.3,314.3 370.7,305.8 378.1,295.2 385.5,284.9 393.0,274.7 400.4,263.7 407.8,249.6 415.2,239.7 422.7,225.7 430.1,212.0 437.5,198.5 444.9,190.7 452.3,186.0 459.8,188.4 467.2,192.6 474.6,198.6 482.0,204.7 489.4,206.2 496.9,207.0 504.3,208.4 511.7,215.7 519.1,217.2 526.6,220.3 534.0,225.8 541.4,235.6 548.8,238.8 556.2,245.2 563.7,255.6 571.1,262.8 578.5,266.2 585.9,271.2 593.4,277.3 600.8,278.4 608.2,281.7 615.6,282.6 623.0,286.3 630.5,286.5 637.9,289.9 645.3,292.2 652.7,289.0 660.2,281.6 667.6,276.5 675.0,267.1 682.4,256.4 689.8,254.8 697.3,254.9 704.7,253.0 712.1,255.7 719.5,258.7 727.0,257.8 734.4,248.3 741.8,243.1 749.2,235.7 756.6,229.7 764.1,223.7 771.5,226.7 778.9,224.9 786.3,222.5 793.8,217.3 801.2,215.2 808.6,214.2 816.0,213.5 823.4,218.8 830.9,224.3 838.3,228.9 845.7,235.9 853.1,238.3 860.5,234.4 868.0,232.6 875.4,231.6 882.8,228.4 890.2,227.0 897.7,223.1 905.1,222.4 912.5,219.4 919.9,212.0" fill="none" stroke="#f25ff5" stroke-width="1.6" stroke-linejoin="round"/>
</g>
<path d="M7 203.1H925" stroke="#1a6fd4" stroke-opacity="0.85" stroke-width="1.45" stroke-dasharray="4.725 4.725" fill="none"/>
<defs><clipPath id="cp"><rect x="7" y="40" width="918" height="440"/></clipPath></defs>
<path d="M7.7 480H924.5" stroke="#4a4f55" stroke-width="2" fill="none"/>
<path d="M924.5 191V215" stroke="#a9cdf3" stroke-width="0.8" fill="none"/>
<path d="M924.7 203L932 191H994V215H932z" fill="#0b66d0"/>
<text class="ax" transform="translate(938.8 209.8) scale(1.0 1.045)" style="fill:#fff;stroke:#fff;stroke-width:0.35">5,513</text>
<text class="ax" transform="translate(938.3 75.8) scale(1.0 1.045)" >6,000</text>
<text class="ax" transform="translate(938.3 347.7) scale(1.0 1.045)" >5,000</text>
<text class="ax" transform="translate(938.3 484.7) scale(1.0 1.045)" >4,500</text>
<text class="ax" transform="translate(90.1 506.1) scale(1.0 1.045)" text-anchor="middle" >2025/4</text>
<text class="ax" transform="translate(246.4 506.1) scale(1.0 1.045)" text-anchor="middle" >5/2</text>
<text class="ax" transform="translate(386.6 506.1) scale(1.0 1.045)" text-anchor="middle" >6/2</text>
<text class="ax" transform="translate(548.7 506.1) scale(1.0 1.045)" text-anchor="middle" >2025/7</text>
<text class="ax" transform="translate(712.6 506.1) scale(1.0 1.045)" text-anchor="middle" >8/4</text>
<text class="ax" transform="translate(860.7 506.1) scale(1.0 1.045)" text-anchor="middle" >9/2</text>
<g stroke-width="3.4" fill="none">
<path d="M9.2 18.1H25.2" stroke="#f25ff5"/>
<path d="M98.4 18.1H114.4" stroke="#14dc78"/>
<path d="M198 18.1H214" stroke="#ffc20a"/>
</g>
<text class="lg" transform="translate(35.2 25.35) scale(1.0 0.94)" >移5日</text>
<text class="lg" transform="translate(124.8 25.35) scale(1.0 0.94)" >移25日</text>
<text class="lg" transform="translate(224.2 25.35) scale(1.0 0.94)" >移75日</text>
</svg>
</body></html>
